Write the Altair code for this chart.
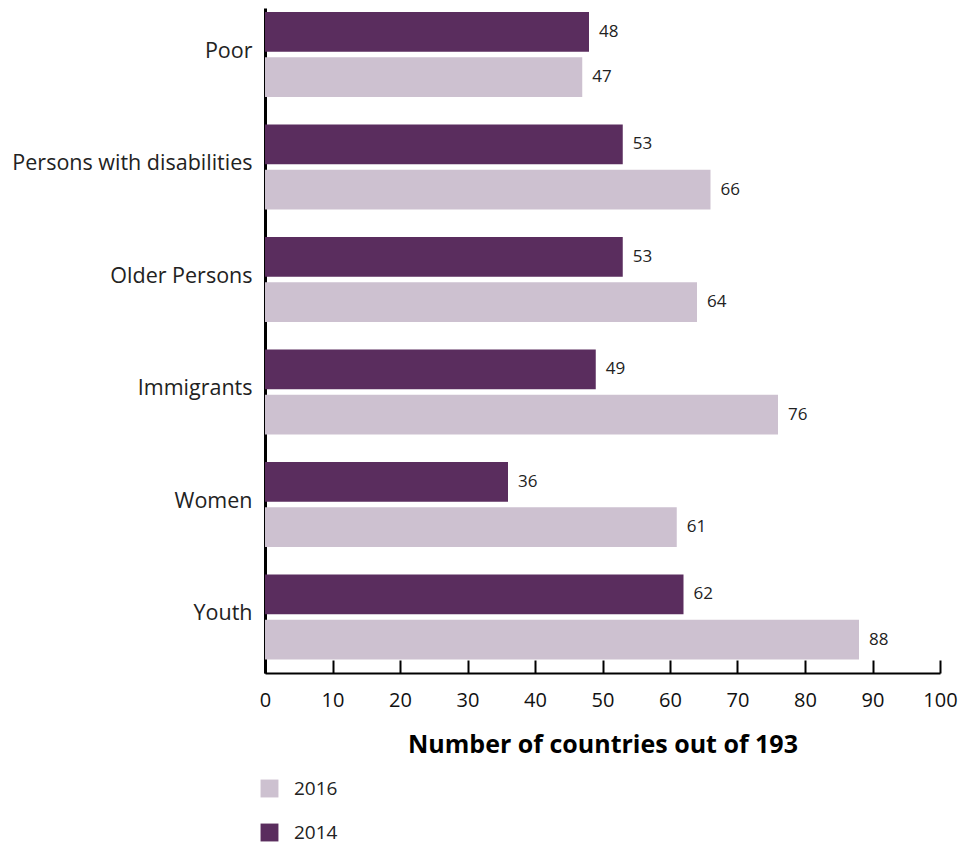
import altair as alt
import pandas as pd

categories = ["Poor", "Persons with disabilities", "Older Persons", "Immigrants", "Women", "Youth"]
years = ["2014", "2016"]
values_2014 = [48, 53, 53, 49, 36, 62]
values_2016 = [47, 66, 64, 76, 61, 88]
x_ticks = list(range(0, 101, 10))
colors = ["#5a2d5e", "#cdc1d0"]

rows = []
for c, a, b in zip(categories, values_2014, values_2016):
    rows.append({"category": c, "year": "2014", "value": a})
    rows.append({"category": c, "year": "2016", "value": b})
df = pd.DataFrame(rows)

FONT = "Open Sans"

y_enc = alt.Y("category:N", sort=categories,
              scale=alt.Scale(paddingInner=0.2444, paddingOuter=0.0778, align=0.229),
              axis=alt.Axis(title=None, ticks=False, domainColor="black", domainWidth=3,
                            labelFontSize=21.5, labelColor="#222222", labelPadding=13,
                            labelOffset=-3, labelFont=FONT, labelLimit=400))
yoff = alt.YOffset("year:N", scale=alt.Scale(domain=years, paddingInner=0.1176, paddingOuter=0))
x_scale = alt.Scale(domain=[0, 100], nice=False)

bars = alt.Chart(df).mark_bar().encode(
    x=alt.X("value:Q", scale=x_scale,
            axis=alt.Axis(values=x_ticks, tickSize=0, domainColor="black", domainWidth=2,
                          labelFontSize=20, labelColor="#111111", labelPadding=17, labelFont=FONT,
                          labelFlush=False,
                          grid=False, title="Number of countries out of 193", titleFont=FONT,
                          titleFontSize=25, titleFontWeight="bold", titleColor="black",
                          titlePadding=22)),
    y=y_enc,
    yOffset=yoff,
    color=alt.Color("year:N", scale=alt.Scale(domain=years, range=colors),
                    legend=alt.Legend(title=None, orient="none", legendX=-5, legendY=771,
                                      values=["2016", "2014"], symbolType="square",
                                      symbolSize=320, symbolStrokeWidth=0, labelFontSize=19,
                                      labelFont=FONT, labelColor="#222222", labelOffset=15,
                                      rowPadding=24, padding=0)),
)

labels = alt.Chart(df).mark_text(align="left", baseline="middle", dx=10, fontSize=17,
                                 font=FONT, color="#222222").encode(
    x=alt.X("value:Q", scale=x_scale,
            axis=alt.Axis(orient="top", offset=-665, values=x_ticks, labels=False, domain=False,
                          tickSize=13, tickWidth=2, tickColor="black", grid=False, title=None)),
    y=alt.Y("category:N", sort=categories),
    yOffset=yoff,
    text="value:Q",
)

chart = alt.layer(bars, labels).resolve_axis(x="independent").properties(
    width=675, height=665,
    autosize=alt.AutoSizeParams(type="none"),
    padding={"left": 257, "top": 0, "right": 20, "bottom": 178},
).configure_view(stroke=None)

chart.save("out.html", embed_options={"renderer": "svg", "actions": False})
